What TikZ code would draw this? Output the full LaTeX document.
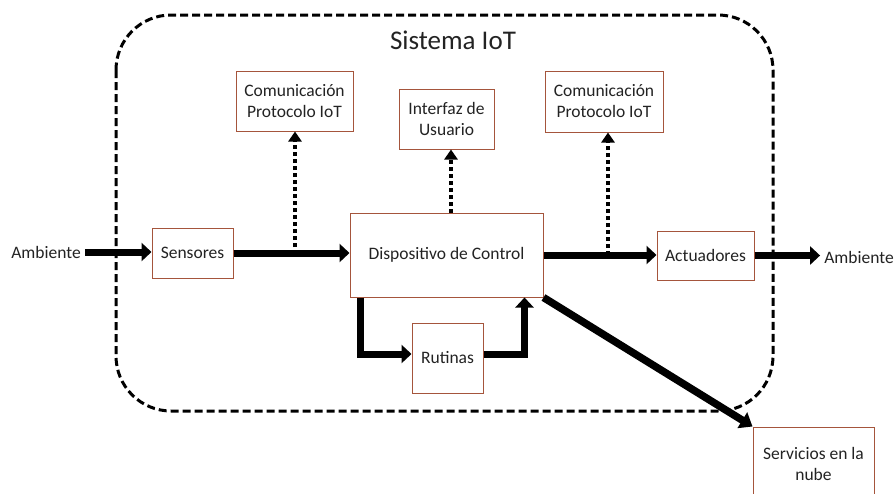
\documentclass[tikz,border=0pt]{standalone}
\usepackage{fontspec}
\setmainfont{Carlito}
\usetikzlibrary{arrows.meta}
\definecolor{boxbrown}{RGB}{165,85,60}
\definecolor{txt}{RGB}{35,35,35}
\tikzset{
  blk/.style={draw=boxbrown, line width=1pt, fill=white, inner sep=0pt, align=center,
    text=txt, font=\fontsize{17.5}{21}\selectfont},
  lbl/.style={inner sep=4pt, text=txt, font=\fontsize{17.5}{21}\selectfont},
  thick arrow/.style={line width=7pt, -{Triangle[length=10pt,width=18pt]}},
  dot arrow/.style={line width=4.5pt, dash pattern=on 4pt off 3pt, -{Triangle[length=10pt,width=13pt]}},
}
\begin{document}
\begin{tikzpicture}[x=1pt,y=-1pt]
\clip (0,0) rectangle (896,493);
\fill[white] (0,0) rectangle (896,493);
% system boundary
\draw[line width=3pt, dash pattern=on 8pt off 4pt, rounded corners=55pt] (116,15) rectangle (773,411);
\node[lbl, font=\fontsize{27}{32}\selectfont] (title) at (453,40) {Sistema IoT};
% boxes
\node[blk, minimum width=81pt, minimum height=50pt] (sens) at (192.5,253) {Sensores};
\node[blk, minimum width=193pt, minimum height=84pt] (disp) at (446.5,255) {Dispositivo de Control};
\node[blk, minimum width=71pt, minimum height=70pt] (rut) at (447.5,358) {Rutinas};
\node[blk, minimum width=97pt, minimum height=49pt] (act) at (705.5,255.5) {Actuadores};
\node[blk, minimum width=117pt, minimum height=60pt] (com1) at (294.5,101) {Comunicación\\Protocolo IoT};
\node[blk, minimum width=118pt, minimum height=61pt] (com2) at (604,101.5) {Comunicación\\Protocolo IoT};
\node[blk, minimum width=95pt, minimum height=60pt] (iface) at (446.5,119) {Interfaz de\\Usuario};
\node[blk, minimum width=121pt, minimum height=74pt] (serv) at (813.5,464) {Servicios en la\\nube};
\node[lbl] (ambL) at (46,252) {Ambiente};
\node[lbl] (ambR) at (859,257) {Ambiente};
% junctions for dotted arrows
\coordinate (j1) at (295,254);
\coordinate (j2) at (608,255);
% main flow
\draw[thick arrow] (ambL.east) -- (sens.west |- ambL.east);
\draw[thick arrow] (sens.east) -- (disp.west |- sens.east);
\draw[thick arrow] (disp.east) -- (act.west |- disp.east);
\draw[thick arrow] (act.east) -- (ambR.west |- act.east);
% dotted
\draw[dot arrow] (j1) -- (j1 |- com1.south);
\draw[dot arrow] ([xshift=4.5pt]disp.north) -- ([xshift=4.5pt]iface.south);
\draw[dot arrow] (j2) -- (j2 |- com2.south);
% routines loop
\draw[thick arrow] ([xshift=-86.5pt]disp.south) |- ([yshift=4pt]rut.west);
\draw[thick arrow] ([yshift=4pt]rut.east) -| ([xshift=78pt]disp.south);
% cloud
\draw[line width=7.5pt, -{Triangle[length=12pt,width=18pt]}] (disp.south east) -- (serv.north west);
\end{tikzpicture}
\end{document}
